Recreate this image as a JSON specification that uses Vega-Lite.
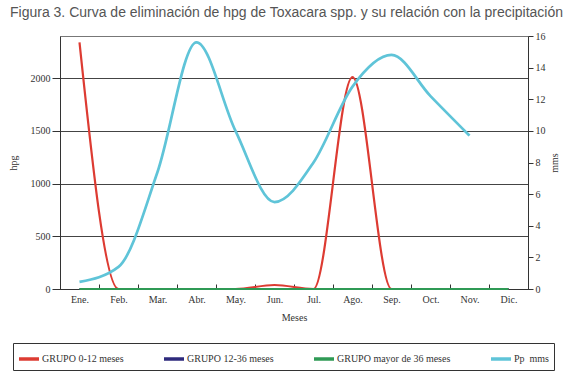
{
  "$schema": "https://vega.github.io/schema/vega-lite/v6.json",
  "width": 468,
  "height": 253,
  "autosize": {"type": "none"},
  "padding": {"left": 60, "top": 36, "right": 51, "bottom": 86},
  "background": "white",
  "title": {
    "text": "Figura 3. Curva de eliminación de hpg de Toxacara spp. y su relación con la precipitación",
    "anchor": "start",
    "frame": "group",
    "dx": -50,
    "offset": 11,
    "font": "Liberation Sans",
    "fontSize": 14,
    "fontWeight": "normal",
    "color": "#555555"
  },
  "config": {
    "view": {"stroke": "#777777", "strokeWidth": 1},
    "axis": {
      "labelFont": "Liberation Serif",
      "labelFontSize": 10,
      "labelColor": "#333333",
      "titleFont": "Liberation Serif",
      "titleFontSize": 10,
      "titleFontWeight": "normal",
      "titleColor": "#333333",
      "domainColor": "#333333",
      "tickColor": "#333333"
    }
  },
  "data": {
    "values": [
      {"mes": "Ene.", "serie": "GRUPO 0-12 meses", "valor": 2340},
      {"mes": "Feb.", "serie": "GRUPO 0-12 meses", "valor": 0},
      {"mes": "Mar.", "serie": "GRUPO 0-12 meses", "valor": 0},
      {"mes": "Abr.", "serie": "GRUPO 0-12 meses", "valor": 0},
      {"mes": "May.", "serie": "GRUPO 0-12 meses", "valor": 0},
      {"mes": "Jun.", "serie": "GRUPO 0-12 meses", "valor": 38},
      {"mes": "Jul.", "serie": "GRUPO 0-12 meses", "valor": 0},
      {"mes": "Ago.", "serie": "GRUPO 0-12 meses", "valor": 2010},
      {"mes": "Sep.", "serie": "GRUPO 0-12 meses", "valor": 0},
      {"mes": "Oct.", "serie": "GRUPO 0-12 meses", "valor": 0},
      {"mes": "Nov.", "serie": "GRUPO 0-12 meses", "valor": 0},
      {"mes": "Dic.", "serie": "GRUPO 0-12 meses", "valor": 0},
      {"mes": "Ene.", "serie": "GRUPO 12-36 meses", "valor": 0},
      {"mes": "Feb.", "serie": "GRUPO 12-36 meses", "valor": 0},
      {"mes": "Mar.", "serie": "GRUPO 12-36 meses", "valor": 0},
      {"mes": "Abr.", "serie": "GRUPO 12-36 meses", "valor": 0},
      {"mes": "May.", "serie": "GRUPO 12-36 meses", "valor": 0},
      {"mes": "Jun.", "serie": "GRUPO 12-36 meses", "valor": 0},
      {"mes": "Jul.", "serie": "GRUPO 12-36 meses", "valor": 0},
      {"mes": "Ago.", "serie": "GRUPO 12-36 meses", "valor": 0},
      {"mes": "Sep.", "serie": "GRUPO 12-36 meses", "valor": 0},
      {"mes": "Oct.", "serie": "GRUPO 12-36 meses", "valor": 0},
      {"mes": "Nov.", "serie": "GRUPO 12-36 meses", "valor": 0},
      {"mes": "Dic.", "serie": "GRUPO 12-36 meses", "valor": 0},
      {"mes": "Ene.", "serie": "GRUPO mayor de 36 meses", "valor": 0},
      {"mes": "Feb.", "serie": "GRUPO mayor de 36 meses", "valor": 0},
      {"mes": "Mar.", "serie": "GRUPO mayor de 36 meses", "valor": 0},
      {"mes": "Abr.", "serie": "GRUPO mayor de 36 meses", "valor": 0},
      {"mes": "May.", "serie": "GRUPO mayor de 36 meses", "valor": 0},
      {"mes": "Jun.", "serie": "GRUPO mayor de 36 meses", "valor": 0},
      {"mes": "Jul.", "serie": "GRUPO mayor de 36 meses", "valor": 0},
      {"mes": "Ago.", "serie": "GRUPO mayor de 36 meses", "valor": 0},
      {"mes": "Sep.", "serie": "GRUPO mayor de 36 meses", "valor": 0},
      {"mes": "Oct.", "serie": "GRUPO mayor de 36 meses", "valor": 0},
      {"mes": "Nov.", "serie": "GRUPO mayor de 36 meses", "valor": 0},
      {"mes": "Dic.", "serie": "GRUPO mayor de 36 meses", "valor": 0},
      {"mes": "Ene.", "serie": "Pp  mms", "valor": 0.45},
      {"mes": "Feb.", "serie": "Pp  mms", "valor": 1.4},
      {"mes": "Mar.", "serie": "Pp  mms", "valor": 7.4},
      {"mes": "Abr.", "serie": "Pp  mms", "valor": 15.6},
      {"mes": "May.", "serie": "Pp  mms", "valor": 10.0},
      {"mes": "Jun.", "serie": "Pp  mms", "valor": 5.5},
      {"mes": "Jul.", "serie": "Pp  mms", "valor": 8.0},
      {"mes": "Ago.", "serie": "Pp  mms", "valor": 12.8},
      {"mes": "Sep.", "serie": "Pp  mms", "valor": 14.8},
      {"mes": "Oct.", "serie": "Pp  mms", "valor": 12.2},
      {"mes": "Nov.", "serie": "Pp  mms", "valor": 9.7}
    ]
  },
  "encoding": {
    "x": {
      "field": "mes",
      "type": "ordinal",
      "sort": ["Ene.", "Feb.", "Mar.", "Abr.", "May.", "Jun.", "Jul.", "Ago.", "Sep.", "Oct.", "Nov.", "Dic."],
      "scale": {"type": "band", "paddingInner": 0, "paddingOuter": 0,
        "domain": ["Ene.", "Feb.", "Mar.", "Abr.", "May.", "Jun.", "Jul.", "Ago.", "Sep.", "Oct.", "Nov.", "Dic."]},
      "axis": {
        "title": "Meses",
        "labelAngle": 0,
        "tickBand": "extent",
        "tickSize": -5,
        "labelPadding": 10,
        "titlePadding": 8,
        "domainWidth": 1.2
      }
    },
    "color": {
      "field": "serie",
      "type": "nominal",
      "scale": {
        "domain": ["GRUPO 0-12 meses", "GRUPO 12-36 meses", "GRUPO mayor de 36 meses", "Pp  mms"],
        "range": ["#dd3b32", "#2e2a7c", "#2f9a55", "#5fc4d8"]
      },
      "legend": {
        "title": null,
        "orient": "none",
        "legendX": -47,
        "legendY": 307,
        "direction": "horizontal",
        "symbolType": "stroke",
        "symbolSize": 400,
        "symbolStrokeWidth": 3.5,
        "labelFont": "Liberation Serif",
        "labelFontSize": 10,
        "labelColor": "#333333",
        "labelOffset": 1,
        "labelExpr": "replace(datum.label, '  ', '\u00a0\u00a0')",
        "columnPadding": 33,
        "labelLimit": 300,
        "padding": 4,
        "strokeColor": "#333333",
        "fillColor": "white"
      }
    }
  },
  "layer": [
    {
      "transform": [{"filter": "datum.serie != 'Pp  mms'"}],
      "mark": {"type": "line", "interpolate": "monotone", "strokeWidth": 2.2},
      "encoding": {
        "y": {
          "field": "valor",
          "type": "quantitative",
          "scale": {"domain": [0, 2400], "nice": false},
          "axis": {
            "title": "hpg",
            "values": [0, 500, 1000, 1500, 2000],
            "format": "d",
            "grid": true,
            "gridColor": "#444444",
            "gridWidth": 1,
            "tickSize": 8,
            "labelPadding": 2,
            "titlePadding": 12
          }
        }
      }
    },
    {
      "transform": [{"filter": "datum.serie == 'Pp  mms'"}],
      "mark": {"type": "line", "interpolate": "monotone", "strokeWidth": 2.7},
      "encoding": {
        "y": {
          "field": "valor",
          "type": "quantitative",
          "scale": {"domain": [0, 16], "nice": false},
          "axis": {
            "title": "mms",
            "orient": "right",
            "values": [0, 2, 4, 6, 8, 10, 12, 14, 16],
            "grid": false,
            "tickSize": 5,
            "titleAngle": -90,
            "titlePadding": 14
          }
        }
      }
    }
  ],
  "resolve": {"scale": {"y": "independent"}}
}
